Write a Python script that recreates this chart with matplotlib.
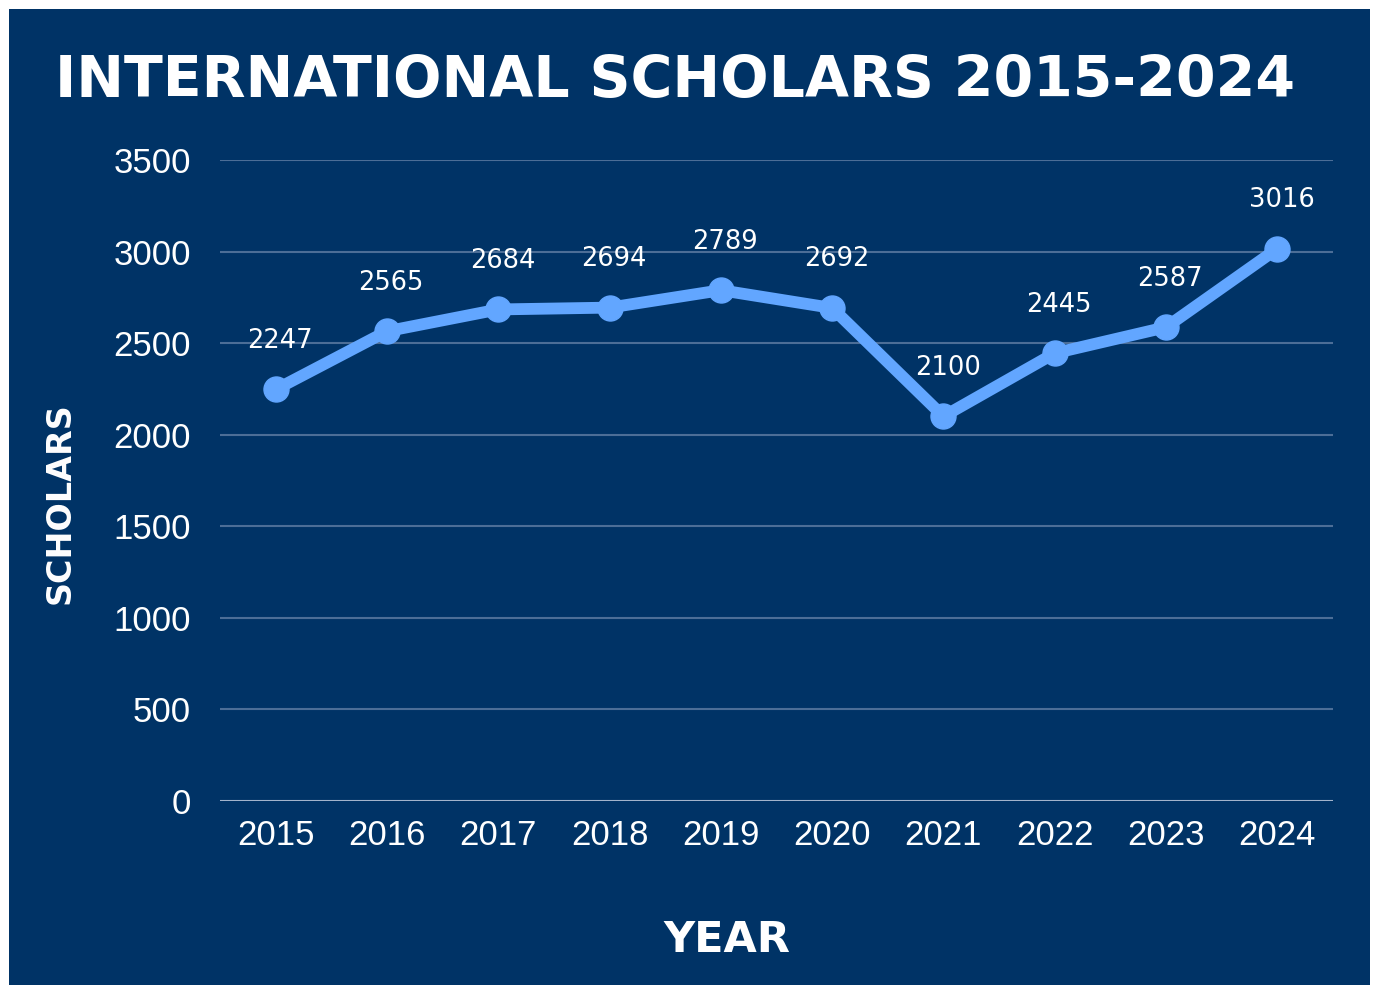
import matplotlib.pyplot as plt
from matplotlib.patches import Rectangle

# data
years = [2015, 2016, 2017, 2018, 2019, 2020, 2021, 2022, 2023, 2024]
scholars = [2247, 2565, 2684, 2694, 2789, 2692, 2100, 2445, 2587, 3016]
y_ticks = [0, 500, 1000, 1500, 2000, 2500, 3000, 3500]

navy = '#003366'
line_blue = '#62a6ff'

fig = plt.figure(figsize=(13.78, 9.94), dpi=100)
fig.patch.set_facecolor('white')
# navy panel inside a thin white border
fig.patches.append(Rectangle((9 / 1378, 9 / 994), 1361 / 1378, 976 / 994,
                             transform=fig.transFigure, facecolor=navy,
                             edgecolor='none', zorder=-10))

ax = fig.add_axes([220 / 1378, 1 - 801 / 994, 1113 / 1378, 641 / 994])
ax.set_facecolor('none')

ax.plot(years, scholars, color=line_blue, linewidth=8.5, marker='o',
        markersize=18, solid_capstyle='round', zorder=3)
for x, v in zip(years, scholars):
    ax.annotate(str(v), (x, v), xytext=(3, 35), textcoords='offset points',
                ha='center', va='center', color='white', fontsize=18.5,
                family='DejaVu Sans', zorder=4)

ax.set_xlim(2014.5, 2024.5)
ax.set_ylim(0, 3500)
ax.set_xticks(years)
ax.set_yticks(y_ticks)
ax.tick_params(length=0, colors='white', labelsize=25)
ax.tick_params(axis='y', pad=21)
ax.tick_params(axis='x', pad=13)
for lbl in ax.get_xticklabels() + ax.get_yticklabels():
    lbl.set_family('Liberation Sans')

ax.grid(axis='y', color='#7f97b8', linewidth=1.5, alpha=0.6)
ax.axhline(0, color='#a3b4cc', linewidth=2.2, zorder=2)
for s in ax.spines.values():
    s.set_visible(False)

fig.text(0.4895, 1 - 82 / 994, 'INTERNATIONAL SCHOLARS 2015-2024', ha='center',
         va='center', color='white', fontsize=41, family='DejaVu Sans',
         fontweight='bold')
fig.text(60 / 1378, 1 - 503 / 994, 'SCHOLARS', rotation=90, ha='center',
         va='center', color='white', fontsize=24, family='DejaVu Sans',
         fontweight='bold')
fig.text(727 / 1378, 1 - 940 / 994, 'YEAR', ha='center', va='center',
         color='white', fontsize=31, family='DejaVu Sans', fontweight='bold')

fig.savefig('out.png', dpi=100, facecolor=fig.get_facecolor())
